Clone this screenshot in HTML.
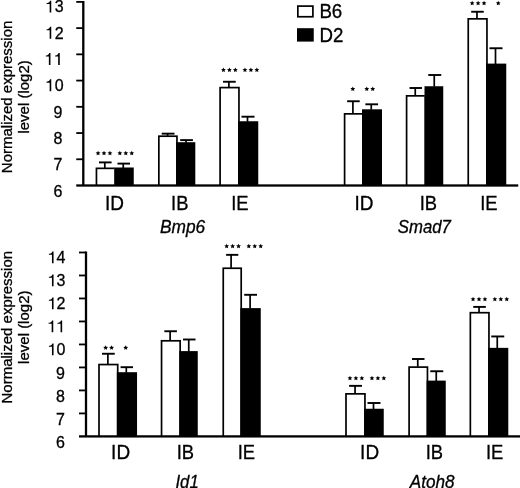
<!DOCTYPE html>
<html>
<head>
<meta charset="utf-8">
<title>Normalized expression level (log2)</title>
<style>
html, body { margin: 0; padding: 0; background: #fff; }
body { width: 520px; height: 488px; overflow: hidden; font-family: "Liberation Sans", sans-serif; }
svg { display: block; filter: grayscale(1); will-change: transform; }
text { stroke: #000; stroke-width: 0.3px; }
</style>
</head>
<body>
<svg width="520" height="488" viewBox="0 0 520 488" font-family="'Liberation Sans', sans-serif" fill="#000">
<rect x="0" y="0" width="520" height="488" fill="#fff"/>
<rect x="103.95" y="162.40" width="1.70" height="5.60" fill="#000"/>
<rect x="99.00" y="161.45" width="12.60" height="1.90" fill="#000"/>
<rect x="122.40" y="163.60" width="1.70" height="4.40" fill="#000"/>
<rect x="117.50" y="162.65" width="12.50" height="1.90" fill="#000"/>
<rect x="95.60" y="167.50" width="19.00" height="18.00" fill="#000"/>
<rect x="97.30" y="169.20" width="17.00" height="16.30" fill="#fff"/>
<rect x="114.30" y="167.50" width="19.45" height="18.00" fill="#000"/>
<rect x="166.75" y="133.65" width="1.70" height="2.20" fill="#000"/>
<rect x="161.70" y="132.70" width="12.80" height="1.90" fill="#000"/>
<rect x="185.20" y="140.10" width="1.70" height="2.60" fill="#000"/>
<rect x="180.20" y="139.15" width="12.70" height="1.90" fill="#000"/>
<rect x="158.00" y="135.35" width="19.80" height="50.15" fill="#000"/>
<rect x="159.70" y="137.05" width="16.40" height="48.45" fill="#fff"/>
<rect x="176.10" y="142.20" width="19.20" height="43.30" fill="#000"/>
<rect x="228.03" y="81.75" width="1.70" height="5.50" fill="#000"/>
<rect x="223.00" y="80.80" width="12.75" height="1.90" fill="#000"/>
<rect x="246.65" y="116.70" width="1.70" height="5.05" fill="#000"/>
<rect x="241.50" y="115.75" width="13.00" height="1.90" fill="#000"/>
<rect x="219.25" y="86.75" width="20.55" height="98.75" fill="#000"/>
<rect x="220.95" y="88.45" width="17.15" height="97.05" fill="#fff"/>
<rect x="238.10" y="121.25" width="20.15" height="64.25" fill="#000"/>
<rect x="352.05" y="101.25" width="1.70" height="12.25" fill="#000"/>
<rect x="347.10" y="100.30" width="12.60" height="1.90" fill="#000"/>
<rect x="370.40" y="104.30" width="1.70" height="5.50" fill="#000"/>
<rect x="365.40" y="103.35" width="12.70" height="1.90" fill="#000"/>
<rect x="343.75" y="113.00" width="18.55" height="72.50" fill="#000"/>
<rect x="345.45" y="114.70" width="16.55" height="70.80" fill="#fff"/>
<rect x="362.00" y="109.30" width="20.00" height="76.20" fill="#000"/>
<rect x="414.40" y="88.00" width="1.70" height="7.50" fill="#000"/>
<rect x="409.50" y="87.05" width="12.50" height="1.90" fill="#000"/>
<rect x="433.40" y="75.00" width="1.70" height="11.75" fill="#000"/>
<rect x="428.25" y="74.05" width="13.00" height="1.90" fill="#000"/>
<rect x="405.75" y="95.00" width="19.05" height="90.50" fill="#000"/>
<rect x="407.45" y="96.70" width="17.05" height="88.80" fill="#fff"/>
<rect x="424.50" y="86.25" width="18.75" height="99.25" fill="#000"/>
<rect x="476.12" y="11.75" width="1.70" height="6.75" fill="#000"/>
<rect x="471.20" y="10.80" width="12.55" height="1.90" fill="#000"/>
<rect x="494.65" y="48.25" width="1.70" height="15.85" fill="#000"/>
<rect x="489.50" y="47.30" width="13.00" height="1.90" fill="#000"/>
<rect x="467.40" y="18.00" width="20.40" height="167.50" fill="#000"/>
<rect x="469.10" y="19.70" width="17.00" height="165.80" fill="#fff"/>
<rect x="486.10" y="63.60" width="20.15" height="121.90" fill="#000"/>
<rect x="107.03" y="353.75" width="1.70" height="10.45" fill="#000"/>
<rect x="102.00" y="352.80" width="12.75" height="1.90" fill="#000"/>
<rect x="125.45" y="367.20" width="1.70" height="5.50" fill="#000"/>
<rect x="120.60" y="366.25" width="12.40" height="1.90" fill="#000"/>
<rect x="98.15" y="363.70" width="20.40" height="72.70" fill="#000"/>
<rect x="99.85" y="365.40" width="17.00" height="71.00" fill="#fff"/>
<rect x="116.85" y="372.20" width="20.20" height="64.20" fill="#000"/>
<rect x="169.28" y="331.25" width="1.70" height="9.20" fill="#000"/>
<rect x="164.35" y="330.30" width="12.55" height="1.90" fill="#000"/>
<rect x="187.90" y="339.50" width="1.70" height="12.10" fill="#000"/>
<rect x="183.00" y="338.55" width="12.50" height="1.90" fill="#000"/>
<rect x="160.70" y="339.95" width="20.30" height="96.45" fill="#000"/>
<rect x="162.40" y="341.65" width="16.90" height="94.75" fill="#fff"/>
<rect x="179.30" y="351.10" width="18.45" height="85.30" fill="#000"/>
<rect x="230.25" y="254.85" width="1.70" height="13.05" fill="#000"/>
<rect x="226.10" y="253.90" width="12.20" height="1.90" fill="#000"/>
<rect x="249.25" y="294.80" width="1.70" height="13.80" fill="#000"/>
<rect x="244.20" y="293.85" width="12.80" height="1.90" fill="#000"/>
<rect x="222.40" y="267.40" width="19.65" height="169.00" fill="#000"/>
<rect x="224.10" y="269.10" width="16.25" height="167.30" fill="#fff"/>
<rect x="240.35" y="308.10" width="20.40" height="128.30" fill="#000"/>
<rect x="354.20" y="385.85" width="1.70" height="7.65" fill="#000"/>
<rect x="349.10" y="384.90" width="12.90" height="1.90" fill="#000"/>
<rect x="372.65" y="403.00" width="1.70" height="6.25" fill="#000"/>
<rect x="367.50" y="402.05" width="13.00" height="1.90" fill="#000"/>
<rect x="345.15" y="393.00" width="20.65" height="43.40" fill="#000"/>
<rect x="346.85" y="394.70" width="17.25" height="41.70" fill="#fff"/>
<rect x="364.10" y="408.75" width="19.65" height="27.65" fill="#000"/>
<rect x="416.90" y="359.00" width="1.70" height="7.75" fill="#000"/>
<rect x="412.00" y="358.05" width="12.50" height="1.90" fill="#000"/>
<rect x="435.40" y="371.25" width="1.70" height="9.85" fill="#000"/>
<rect x="430.25" y="370.30" width="13.00" height="1.90" fill="#000"/>
<rect x="408.25" y="366.25" width="20.05" height="70.15" fill="#000"/>
<rect x="409.95" y="367.95" width="16.65" height="68.45" fill="#fff"/>
<rect x="426.60" y="380.60" width="19.15" height="55.80" fill="#000"/>
<rect x="478.20" y="306.90" width="1.70" height="5.45" fill="#000"/>
<rect x="473.25" y="305.95" width="12.60" height="1.90" fill="#000"/>
<rect x="496.40" y="336.45" width="1.70" height="11.90" fill="#000"/>
<rect x="491.25" y="335.50" width="13.00" height="1.90" fill="#000"/>
<rect x="469.50" y="311.85" width="20.30" height="124.55" fill="#000"/>
<rect x="471.20" y="313.55" width="16.90" height="122.85" fill="#fff"/>
<rect x="488.10" y="347.85" width="20.20" height="88.55" fill="#000"/>
<rect x="76.25" y="184.35" width="442.00" height="2.30" fill="#000"/>
<rect x="82.15" y="1.00" width="2.30" height="184.50" fill="#000"/>
<rect x="76.25" y="158.37" width="7.05" height="1.80" fill="#000"/>
<rect x="76.25" y="132.14" width="7.05" height="1.80" fill="#000"/>
<rect x="76.25" y="105.91" width="7.05" height="1.80" fill="#000"/>
<rect x="76.25" y="79.68" width="7.05" height="1.80" fill="#000"/>
<rect x="76.25" y="53.45" width="7.05" height="1.80" fill="#000"/>
<rect x="76.25" y="27.22" width="7.05" height="1.80" fill="#000"/>
<rect x="76.25" y="0.99" width="7.05" height="1.80" fill="#000"/>
<rect x="79.00" y="435.25" width="441.00" height="2.30" fill="#000"/>
<rect x="84.85" y="251.50" width="2.30" height="184.90" fill="#000"/>
<rect x="79.00" y="412.51" width="7.00" height="1.80" fill="#000"/>
<rect x="79.00" y="389.52" width="7.00" height="1.80" fill="#000"/>
<rect x="79.00" y="366.53" width="7.00" height="1.80" fill="#000"/>
<rect x="79.00" y="343.54" width="7.00" height="1.80" fill="#000"/>
<rect x="79.00" y="320.55" width="7.00" height="1.80" fill="#000"/>
<rect x="79.00" y="297.56" width="7.00" height="1.80" fill="#000"/>
<rect x="79.00" y="274.57" width="7.00" height="1.80" fill="#000"/>
<rect x="79.00" y="251.58" width="7.00" height="1.80" fill="#000"/>
<text transform="translate(62.40,196.70) scale(1.0,1.035)" font-size="16" text-anchor="end">6</text>
<text transform="translate(62.40,170.47) scale(1.0,1.035)" font-size="16" text-anchor="end">7</text>
<text transform="translate(62.40,144.24) scale(1.0,1.035)" font-size="16" text-anchor="end">8</text>
<text transform="translate(62.40,118.01) scale(1.0,1.035)" font-size="16" text-anchor="end">9</text>
<text transform="translate(63.60,91.18) scale(1.0,1.035)" font-size="16" text-anchor="end">0</text>
<path d="M50.08,79.32 L51.26,79.32 L51.26,91.18 L49.66,91.18 L49.66,82.73 L46.61,82.73 L46.61,81.61 L47.65,81.61 Q49.73,81.41 50.08,79.32 Z" fill="#000"/>
<path d="M58.58,53.09 L59.76,53.09 L59.76,64.95 L58.16,64.95 L58.16,56.50 L55.10,56.50 L55.10,55.38 L56.14,55.38 Q58.22,55.18 58.58,53.09 Z" fill="#000"/>
<path d="M49.28,53.09 L50.46,53.09 L50.46,64.95 L48.86,64.95 L48.86,56.50 L45.81,56.50 L45.81,55.38 L46.85,55.38 Q48.93,55.18 49.28,53.09 Z" fill="#000"/>
<text transform="translate(63.60,38.72) scale(1.0,1.035)" font-size="16" text-anchor="end">2</text>
<path d="M50.08,26.86 L51.26,26.86 L51.26,38.72 L49.66,38.72 L49.66,30.27 L46.61,30.27 L46.61,29.15 L47.65,29.15 Q49.73,28.95 50.08,26.86 Z" fill="#000"/>
<text transform="translate(63.60,12.49) scale(1.0,1.035)" font-size="16" text-anchor="end">3</text>
<path d="M50.08,0.63 L51.26,0.63 L51.26,12.49 L49.66,12.49 L49.66,4.04 L46.61,4.04 L46.61,2.92 L47.65,2.92 Q49.73,2.72 50.08,0.63 Z" fill="#000"/>
<text transform="translate(65.00,447.60) scale(1.0,1.035)" font-size="16" text-anchor="end">6</text>
<text transform="translate(65.00,424.61) scale(1.0,1.035)" font-size="16" text-anchor="end">7</text>
<text transform="translate(65.00,401.62) scale(1.0,1.035)" font-size="16" text-anchor="end">8</text>
<text transform="translate(65.00,378.63) scale(1.0,1.035)" font-size="16" text-anchor="end">9</text>
<text transform="translate(65.50,355.24) scale(1.0,1.035)" font-size="16" text-anchor="end">0</text>
<path d="M52.38,343.38 L53.56,343.38 L53.56,355.24 L51.96,355.24 L51.96,346.79 L48.91,346.79 L48.91,345.67 L49.95,345.67 Q52.03,345.47 52.38,343.38 Z" fill="#000"/>
<path d="M60.98,320.39 L62.16,320.39 L62.16,332.25 L60.56,332.25 L60.56,323.80 L57.50,323.80 L57.50,322.68 L58.54,322.68 Q60.62,322.48 60.98,320.39 Z" fill="#000"/>
<path d="M52.08,320.39 L53.26,320.39 L53.26,332.25 L51.66,332.25 L51.66,323.80 L48.61,323.80 L48.61,322.68 L49.65,322.68 Q51.73,322.48 52.08,320.39 Z" fill="#000"/>
<text transform="translate(65.50,309.26) scale(1.0,1.035)" font-size="16" text-anchor="end">2</text>
<path d="M52.38,297.40 L53.56,297.40 L53.56,309.26 L51.96,309.26 L51.96,300.81 L48.91,300.81 L48.91,299.69 L49.95,299.69 Q52.03,299.49 52.38,297.40 Z" fill="#000"/>
<text transform="translate(65.50,286.27) scale(1.0,1.035)" font-size="16" text-anchor="end">3</text>
<path d="M52.38,274.41 L53.56,274.41 L53.56,286.27 L51.96,286.27 L51.96,277.82 L48.91,277.82 L48.91,276.70 L49.95,276.70 Q52.03,276.50 52.38,274.41 Z" fill="#000"/>
<text transform="translate(65.50,263.28) scale(1.0,1.035)" font-size="16" text-anchor="end">4</text>
<path d="M52.38,251.42 L53.56,251.42 L53.56,263.28 L51.96,263.28 L51.96,254.83 L48.91,254.83 L48.91,253.71 L49.95,253.71 Q52.03,253.51 52.38,251.42 Z" fill="#000"/>
<text transform="translate(11.9,96.9) rotate(-90)" font-size="15" text-anchor="middle">Normalized expression</text>
<text transform="translate(29.2,96.9) rotate(-90)" font-size="15" text-anchor="middle">level (log2)</text>
<text transform="translate(11.9,327.2) rotate(-90)" font-size="15" text-anchor="middle">Normalized expression</text>
<text transform="translate(29.2,327.2) rotate(-90)" font-size="15" text-anchor="middle">level (log2)</text>
<text transform="translate(114.40,210.00) scale(1.0,1.085)" font-size="19" text-anchor="middle">ID</text>
<text transform="translate(179.70,210.00) scale(0.967,1.085)" font-size="19" text-anchor="middle">IB</text>
<text transform="translate(239.80,210.00) scale(0.967,1.085)" font-size="19" text-anchor="middle">IE</text>
<text transform="translate(364.00,210.00) scale(1.0,1.085)" font-size="19" text-anchor="middle">ID</text>
<text transform="translate(428.30,210.00) scale(0.967,1.085)" font-size="19" text-anchor="middle">IB</text>
<text transform="translate(488.90,210.00) scale(0.967,1.085)" font-size="19" text-anchor="middle">IE</text>
<text transform="translate(120.60,458.75) scale(1.0,1.085)" font-size="19" text-anchor="middle">ID</text>
<text transform="translate(185.40,458.75) scale(0.967,1.085)" font-size="19" text-anchor="middle">IB</text>
<text transform="translate(246.30,458.75) scale(0.967,1.085)" font-size="19" text-anchor="middle">IE</text>
<text transform="translate(369.60,458.75) scale(1.0,1.085)" font-size="19" text-anchor="middle">ID</text>
<text transform="translate(434.30,458.75) scale(0.967,1.085)" font-size="19" text-anchor="middle">IB</text>
<text transform="translate(494.55,458.75) scale(0.967,1.085)" font-size="19" text-anchor="middle">IE</text>
<text transform="translate(182.60,233.00) scale(0.99,1.0)" font-size="17.5" text-anchor="middle" font-style="italic">Bmp6</text>
<text transform="translate(424.35,233.20) scale(0.957,1.0)" font-size="17.5" text-anchor="middle" font-style="italic">Smad7</text>
<text transform="translate(187.10,487.70) scale(0.957,1.0)" font-size="17.5" text-anchor="middle" font-style="italic">Id1</text>
<text transform="translate(432.20,487.70) scale(0.98,1.0)" font-size="17.5" text-anchor="middle" font-style="italic">Atoh8</text>
<polygon points="98.05,150.65 98.76,152.23 100.48,152.41 99.19,153.57 99.55,155.26 98.05,154.40 96.55,155.26 96.91,153.57 95.62,152.41 97.34,152.23" fill="#000"/>
<polygon points="104.00,150.65 104.71,152.23 106.43,152.41 105.14,153.57 105.50,155.26 104.00,154.40 102.50,155.26 102.86,153.57 101.57,152.41 103.29,152.23" fill="#000"/>
<polygon points="109.95,150.65 110.66,152.23 112.38,152.41 111.09,153.57 111.45,155.26 109.95,154.40 108.45,155.26 108.81,153.57 107.52,152.41 109.24,152.23" fill="#000"/>
<polygon points="119.85,150.65 120.56,152.23 122.28,152.41 120.99,153.57 121.35,155.26 119.85,154.40 118.35,155.26 118.71,153.57 117.42,152.41 119.14,152.23" fill="#000"/>
<polygon points="125.80,150.65 126.51,152.23 128.23,152.41 126.94,153.57 127.30,155.26 125.80,154.40 124.30,155.26 124.66,153.57 123.37,152.41 125.09,152.23" fill="#000"/>
<polygon points="131.75,150.65 132.46,152.23 134.18,152.41 132.89,153.57 133.25,155.26 131.75,154.40 130.25,155.26 130.61,153.57 129.32,152.41 131.04,152.23" fill="#000"/>
<polygon points="223.45,67.45 224.16,69.03 225.88,69.21 224.59,70.37 224.95,72.06 223.45,71.20 221.95,72.06 222.31,70.37 221.02,69.21 222.74,69.03" fill="#000"/>
<polygon points="229.40,67.45 230.11,69.03 231.83,69.21 230.54,70.37 230.90,72.06 229.40,71.20 227.90,72.06 228.26,70.37 226.97,69.21 228.69,69.03" fill="#000"/>
<polygon points="235.35,67.45 236.06,69.03 237.78,69.21 236.49,70.37 236.85,72.06 235.35,71.20 233.85,72.06 234.21,70.37 232.92,69.21 234.64,69.03" fill="#000"/>
<polygon points="244.95,67.45 245.66,69.03 247.38,69.21 246.09,70.37 246.45,72.06 244.95,71.20 243.45,72.06 243.81,70.37 242.52,69.21 244.24,69.03" fill="#000"/>
<polygon points="250.90,67.45 251.61,69.03 253.33,69.21 252.04,70.37 252.40,72.06 250.90,71.20 249.40,72.06 249.76,70.37 248.47,69.21 250.19,69.03" fill="#000"/>
<polygon points="256.85,67.45 257.56,69.03 259.28,69.21 257.99,70.37 258.35,72.06 256.85,71.20 255.35,72.06 255.71,70.37 254.42,69.21 256.14,69.03" fill="#000"/>
<polygon points="352.80,86.50 353.51,88.08 355.23,88.26 353.94,89.42 354.30,91.11 352.80,90.25 351.30,91.11 351.66,89.42 350.37,88.26 352.09,88.08" fill="#000"/>
<polygon points="366.77,86.50 367.48,88.08 369.20,88.26 367.92,89.42 368.27,91.11 366.77,90.25 365.28,91.11 365.63,89.42 364.35,88.26 366.07,88.08" fill="#000"/>
<polygon points="372.73,86.50 373.43,88.08 375.15,88.26 373.87,89.42 374.22,91.11 372.73,90.25 371.23,91.11 371.58,89.42 370.30,88.26 372.02,88.08" fill="#000"/>
<polygon points="472.15,0.70 472.86,2.28 474.58,2.46 473.29,3.62 473.65,5.31 472.15,4.45 470.65,5.31 471.01,3.62 469.72,2.46 471.44,2.28" fill="#000"/>
<polygon points="478.10,0.70 478.81,2.28 480.53,2.46 479.24,3.62 479.60,5.31 478.10,4.45 476.60,5.31 476.96,3.62 475.67,2.46 477.39,2.28" fill="#000"/>
<polygon points="484.05,0.70 484.76,2.28 486.48,2.46 485.19,3.62 485.55,5.31 484.05,4.45 482.55,5.31 482.91,3.62 481.62,2.46 483.34,2.28" fill="#000"/>
<polygon points="498.25,0.70 498.96,2.28 500.68,2.46 499.39,3.62 499.75,5.31 498.25,4.45 496.75,5.31 497.11,3.62 495.82,2.46 497.54,2.28" fill="#000"/>
<polygon points="105.62,345.25 106.33,346.83 108.05,347.01 106.77,348.17 107.12,349.86 105.62,349.00 104.13,349.86 104.48,348.17 103.20,347.01 104.92,346.83" fill="#000"/>
<polygon points="111.57,345.25 112.28,346.83 114.00,347.01 112.72,348.17 113.07,349.86 111.57,349.00 110.08,349.86 110.43,348.17 109.15,347.01 110.87,346.83" fill="#000"/>
<polygon points="125.70,345.25 126.41,346.83 128.13,347.01 126.84,348.17 127.20,349.86 125.70,349.00 124.20,349.86 124.56,348.17 123.27,347.01 124.99,346.83" fill="#000"/>
<polygon points="226.65,243.70 227.36,245.28 229.08,245.46 227.79,246.62 228.15,248.31 226.65,247.45 225.15,248.31 225.51,246.62 224.22,245.46 225.94,245.28" fill="#000"/>
<polygon points="232.60,243.70 233.31,245.28 235.03,245.46 233.74,246.62 234.10,248.31 232.60,247.45 231.10,248.31 231.46,246.62 230.17,245.46 231.89,245.28" fill="#000"/>
<polygon points="238.55,243.70 239.26,245.28 240.98,245.46 239.69,246.62 240.05,248.31 238.55,247.45 237.05,248.31 237.41,246.62 236.12,245.46 237.84,245.28" fill="#000"/>
<polygon points="248.80,243.70 249.51,245.28 251.23,245.46 249.94,246.62 250.30,248.31 248.80,247.45 247.30,248.31 247.66,246.62 246.37,245.46 248.09,245.28" fill="#000"/>
<polygon points="254.75,243.70 255.46,245.28 257.18,245.46 255.89,246.62 256.25,248.31 254.75,247.45 253.25,248.31 253.61,246.62 252.32,245.46 254.04,245.28" fill="#000"/>
<polygon points="260.70,243.70 261.41,245.28 263.13,245.46 261.84,246.62 262.20,248.31 260.70,247.45 259.20,248.31 259.56,246.62 258.27,245.46 259.99,245.28" fill="#000"/>
<polygon points="349.95,375.70 350.66,377.28 352.38,377.46 351.09,378.62 351.45,380.31 349.95,379.45 348.45,380.31 348.81,378.62 347.52,377.46 349.24,377.28" fill="#000"/>
<polygon points="355.90,375.70 356.61,377.28 358.33,377.46 357.04,378.62 357.40,380.31 355.90,379.45 354.40,380.31 354.76,378.62 353.47,377.46 355.19,377.28" fill="#000"/>
<polygon points="361.85,375.70 362.56,377.28 364.28,377.46 362.99,378.62 363.35,380.31 361.85,379.45 360.35,380.31 360.71,378.62 359.42,377.46 361.14,377.28" fill="#000"/>
<polygon points="371.95,375.70 372.66,377.28 374.38,377.46 373.09,378.62 373.45,380.31 371.95,379.45 370.45,380.31 370.81,378.62 369.52,377.46 371.24,377.28" fill="#000"/>
<polygon points="377.90,375.70 378.61,377.28 380.33,377.46 379.04,378.62 379.40,380.31 377.90,379.45 376.40,380.31 376.76,378.62 375.47,377.46 377.19,377.28" fill="#000"/>
<polygon points="383.85,375.70 384.56,377.28 386.28,377.46 384.99,378.62 385.35,380.31 383.85,379.45 382.35,380.31 382.71,378.62 381.42,377.46 383.14,377.28" fill="#000"/>
<polygon points="473.05,296.70 473.76,298.28 475.48,298.46 474.19,299.62 474.55,301.31 473.05,300.45 471.55,301.31 471.91,299.62 470.62,298.46 472.34,298.28" fill="#000"/>
<polygon points="479.00,296.70 479.71,298.28 481.43,298.46 480.14,299.62 480.50,301.31 479.00,300.45 477.50,301.31 477.86,299.62 476.57,298.46 478.29,298.28" fill="#000"/>
<polygon points="484.95,296.70 485.66,298.28 487.38,298.46 486.09,299.62 486.45,301.31 484.95,300.45 483.45,301.31 483.81,299.62 482.52,298.46 484.24,298.28" fill="#000"/>
<polygon points="494.85,296.70 495.56,298.28 497.28,298.46 495.99,299.62 496.35,301.31 494.85,300.45 493.35,301.31 493.71,299.62 492.42,298.46 494.14,298.28" fill="#000"/>
<polygon points="500.80,296.70 501.51,298.28 503.23,298.46 501.94,299.62 502.30,301.31 500.80,300.45 499.30,301.31 499.66,299.62 498.37,298.46 500.09,298.28" fill="#000"/>
<polygon points="506.75,296.70 507.46,298.28 509.18,298.46 507.89,299.62 508.25,301.31 506.75,300.45 505.25,301.31 505.61,299.62 504.32,298.46 506.04,298.28" fill="#000"/>
<rect x="297.00" y="5.25" width="16.75" height="12.35" fill="#000"/>
<rect x="298.70" y="6.95" width="13.35" height="8.95" fill="#fff"/>
<rect x="297.00" y="28.20" width="16.75" height="13.40" fill="#000"/>
<text transform="translate(319.40,17.80) scale(0.985,1.05)" font-size="19" text-anchor="start">B6</text>
<text transform="translate(319.40,41.90) scale(0.985,1.07)" font-size="19" text-anchor="start">D2</text>
</svg>
</body>
</html>
